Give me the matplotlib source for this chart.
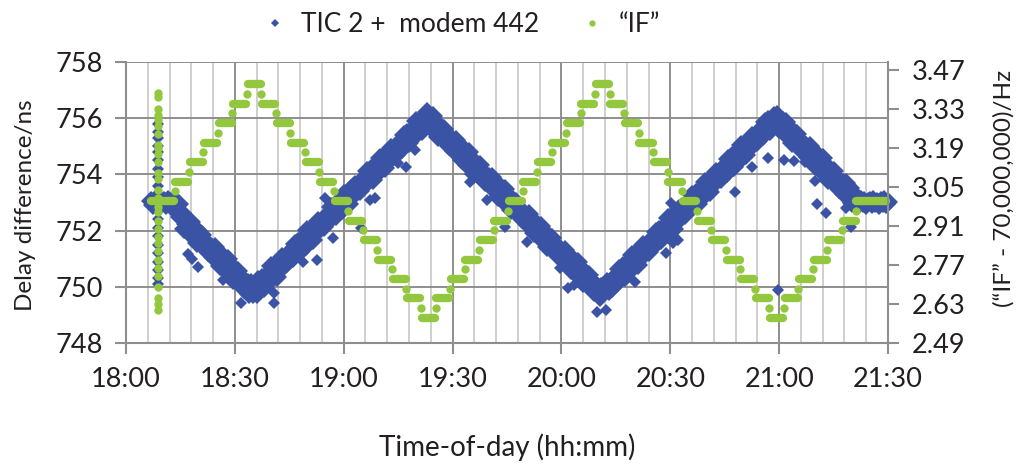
import numpy as np
import matplotlib
matplotlib.use("Agg")
import matplotlib.pyplot as plt
from matplotlib.lines import Line2D
from matplotlib.ticker import FuncFormatter

plt.rcParams['font.family'] = ['Lato', 'DejaVu Sans']

# ---- data (time in minutes after 18:00) ----
# TIC 2 + modem 442: delay difference / ns, sampled every 0.5 min from 18:07
blue_t0 = 7.0
blue_dt = 0.5
blue_v = [
    # flat start
    753.05, 752.92, 753.10, 752.98, 753.08, 752.90, 753.00, 753.06, 752.91, 753.10, 752.96, 753.03, 752.90,
    # falling to first minimum
    753.07, 752.67, 752.95, 752.50, 752.62, 752.05, 752.25, 752.32, 751.88, 752.32,
    751.87, 751.99, 751.56, 751.95, 751.69, 751.86, 751.43, 751.56, 751.25, 751.48,
    751.43, 751.07, 751.43, 751.07, 751.25, 750.73, 750.94, 751.00, 750.57, 751.00,
    750.56, 750.67, 750.24, 750.64, 750.37, 750.55, 750.11, 750.24, 749.93, 750.16,
    750.12, 749.75, 750.12, 749.75,
    # rising to first maximum
    749.98, 749.75, 750.24, 750.01, 750.32, 749.94, 750.27, 750.47, 750.16, 750.73,
    750.41, 750.65, 750.36, 750.88, 750.75, 751.05, 750.75, 751.01, 750.83, 751.19,
    751.28, 751.04, 751.54, 751.30, 751.61, 751.23, 751.56, 751.76, 751.45, 752.02,
    751.70, 751.95, 751.65, 752.18, 752.04, 752.34, 752.04, 752.30, 752.12, 752.48,
    752.57, 752.33, 752.83, 752.59, 752.91, 752.52, 752.86, 753.05, 752.74, 753.31,
    752.99, 753.24, 752.94, 753.47, 753.33, 753.64, 753.33, 753.60, 753.41, 753.77,
    753.86, 753.62, 754.12, 753.88, 754.20, 753.81, 754.15, 754.34, 754.04, 754.60,
    754.29, 754.53, 754.23, 754.76, 754.62, 754.93, 754.62, 754.89, 754.70, 755.07,
    755.15, 754.92, 755.41, 755.17, 755.49, 755.10, 755.44, 755.63, 755.33, 755.89,
    755.58, 755.82, 755.53, 756.05, 755.92, 756.22,
    # falling to second minimum
    756.08, 755.65, 756.08, 755.64, 755.75, 755.33, 755.72, 755.46, 755.63, 755.20,
    755.33, 755.02, 755.25, 755.21, 754.84, 755.21, 754.84, 755.03, 754.51, 754.72,
    754.78, 754.35, 754.78, 754.34, 754.45, 754.03, 754.42, 754.16, 754.33, 753.90,
    754.03, 753.72, 753.95, 753.91, 753.54, 753.91, 753.54, 753.73, 753.21, 753.42,
    753.48, 753.05, 753.48, 753.04, 753.15, 752.73, 753.12, 752.86, 753.03, 752.60,
    752.73, 752.42, 752.65, 752.60, 752.24, 752.60, 752.24, 752.42, 751.91, 752.11,
    752.18, 751.74, 752.18, 751.73, 751.85, 751.42, 751.82, 751.55, 751.73, 751.29,
    751.43, 751.11, 751.35, 751.30, 750.94, 751.30, 750.94, 751.12, 750.61, 750.81,
    750.88, 750.44, 750.88, 750.43, 750.55, 750.12, 750.52, 750.25, 750.43, 749.99,
    750.13, 749.81, 750.05, 750.00, 749.64, 750.00,
    # rising to second maximum
    750.00, 749.86, 750.17, 749.86, 750.13, 749.94, 750.31, 750.39, 750.16, 750.65,
    750.42, 750.73, 750.35, 750.68, 750.88, 750.57, 751.14, 750.82, 751.07, 750.77,
    751.30, 751.16, 751.47, 751.16, 751.43, 751.24, 751.61, 751.69, 751.46, 751.95,
    751.72, 752.03, 751.65, 751.98, 752.18, 751.87, 752.44, 752.12, 752.37, 752.07,
    752.60, 752.46, 752.77, 752.46, 752.73, 752.54, 752.91, 752.99, 752.76, 753.25,
    753.02, 753.33, 752.95, 753.29, 753.48, 753.18, 753.74, 753.43, 753.67, 753.38,
    753.90, 753.77, 754.07, 753.77, 754.03, 753.85, 754.21, 754.30, 754.06, 754.56,
    754.32, 754.64, 754.25, 754.59, 754.78, 754.48, 755.04, 754.73, 754.97, 754.68,
    755.20, 755.07, 755.37, 755.07, 755.33, 755.15, 755.51, 755.60, 755.36, 755.86,
    755.62, 755.94, 755.55, 755.89, 756.08, 755.78,
    # falling back to 753
    756.13, 755.62, 755.82, 755.89, 755.45, 755.88, 755.44, 755.55, 755.13, 755.52,
    755.26, 755.43, 754.99, 755.13, 754.81, 755.05, 755.00, 754.63, 755.00, 754.63,
    754.82, 754.30, 754.50, 754.57, 754.13, 754.57, 754.12, 754.23, 753.81, 754.20,
    753.94, 754.11, 753.68, 753.81, 753.49, 753.73, 753.68, 753.32, 753.68, 753.31,
    753.50, 752.98, 753.19, 753.25,
    # flat end
    753.04, 752.93, 753.08, 752.97, 753.06, 752.91, 753.02, 753.07, 752.94, 753.09,
    752.97, 753.03, 752.92, 753.06, 753.00, 753.08, 752.95, 753.02,
]

# start-up burst at 18:09
blue_spike_t = 8.9
blue_spike_v = [755.8, 755.5, 755.3, 755.0, 754.8, 754.5, 754.2, 753.9, 753.6, 753.3,
                752.7, 752.4, 752.1, 751.8, 751.5, 751.2, 750.9, 750.6, 750.3, 750.1]

# stray points off the main band
out_t = [17.2, 18.1, 19.9, 26.8, 31.7, 40.9, 40.8, 48.8, 52.5, 54.8, 57.1, 64.9, 67.2, 68.6,
         74.9, 77.3, 79.6, 94.8, 99.4, 104.4, 110.4, 119.6, 121.8, 123.4, 129.7, 132.4, 140.2,
         148.8, 150.7, 152.0, 150.3, 167.8, 172.4, 176.9, 179.7, 181.3, 184.0, 187.1, 189.8,
         190.4, 193.0, 198.5, 199.9]
out_v = [751.16, 750.99, 750.72, 750.24, 749.41, 749.77, 749.41, 750.90, 750.95, 753.17, 751.73,
         752.08, 753.10, 753.15, 754.40, 754.27, 754.87, 753.74, 753.09, 752.14, 751.60, 750.66,
         749.95, 750.06, 749.11, 749.17, 750.18, 751.20, 751.56, 751.67, 752.97, 753.38, 754.27,
         754.57, 749.89, 754.51, 754.48, 754.45, 753.77, 752.95, 752.64, 752.79, 752.14]

# "IF" - 70,000,000 Hz: stepped levels (start, end, level)
if_start = [7.0, 13.5, 17.5, 21.5, 25.5, 29.5, 33.5, 37.5, 41.5, 45.5, 49.5, 53.5, 57.5,
            61.5, 65.5, 69.5, 73.5, 77.5, 81.5, 85.5, 89.5, 93.5, 97.5, 101.5, 105.5, 109.5,
            113.5, 117.5, 121.5, 125.5, 129.5, 133.5, 137.5, 141.5, 145.5, 149.5, 153.5,
            157.5, 161.5, 165.5, 169.5, 173.5, 177.5, 181.5, 185.5, 189.5, 193.5, 197.5, 201.3]
if_end = [13.2, 17.1, 21.1, 25.1, 29.1, 33.1, 37.1, 41.1, 45.1, 49.1, 53.1, 57.1, 61.1,
          65.1, 69.1, 73.1, 77.1, 81.1, 85.1, 89.1, 93.1, 97.1, 101.1, 105.1, 109.1, 113.1,
          117.1, 121.1, 125.1, 129.1, 133.1, 137.1, 141.1, 145.1, 149.1, 153.1, 157.1,
          161.1, 165.1, 169.1, 173.1, 177.1, 181.1, 185.1, 189.1, 193.1, 197.1, 201.1, 209.5]
if_level = [3.00, 3.07, 3.14, 3.21, 3.28, 3.35, 3.42, 3.35, 3.28, 3.21, 3.14, 3.07, 3.00,
            2.93, 2.86, 2.79, 2.72, 2.65, 2.58, 2.65, 2.72, 2.79, 2.86, 2.93, 3.00, 3.07,
            3.14, 3.21, 3.28, 3.35, 3.42, 3.35, 3.28, 3.21, 3.14, 3.07, 3.00,
            2.93, 2.86, 2.79, 2.72, 2.65, 2.58, 2.65, 2.72, 2.79, 2.86, 2.93, 3.00]

# single readings caught between two levels
if_trans_t = [13.4, 17.3, 21.3, 25.3, 29.3, 33.3, 37.3, 41.3, 45.3, 49.3, 53.3, 57.3, 61.3,
              65.3, 69.3, 73.3, 77.3, 81.3, 85.3, 89.3, 93.3, 97.3, 101.3, 105.3, 109.3, 113.3,
              117.3, 121.3, 125.3, 129.3, 133.3, 137.3, 141.3, 145.3, 149.3, 153.3, 157.3,
              161.3, 165.3, 169.3, 173.3, 177.3, 181.3, 185.3, 189.3, 193.3, 197.3, 201.2]
if_trans_v = [3.035, 3.105, 3.175, 3.245, 3.315, 3.385, 3.385, 3.315, 3.245, 3.175, 3.105, 3.035,
              2.965, 2.895, 2.825, 2.755, 2.685, 2.615, 2.615, 2.685, 2.755, 2.825, 2.895, 2.965,
              3.035, 3.105, 3.175, 3.245, 3.315, 3.385, 3.385, 3.315, 3.245, 3.175, 3.105, 3.035,
              2.965, 2.895, 2.825, 2.755, 2.685, 2.615, 2.615, 2.685, 2.755, 2.825, 2.895, 2.965]

# start-up burst of "IF"
if_spike_t = 8.8
if_spike_v = [3.39, 3.375, 3.33, 3.31, 3.29, 3.27, 3.24, 3.20, 3.19, 3.17, 3.14, 3.10, 3.08,
              3.04, 3.01, 2.98, 2.96, 2.93, 2.90, 2.87, 2.85, 2.82, 2.79, 2.76, 2.73, 2.69,
              2.65, 2.63, 2.61]

left_ticks = [748, 750, 752, 754, 756, 758]
right_ticks = [2.49, 2.63, 2.77, 2.91, 3.05, 3.19, 3.33, 3.47]

BLUE = '#3A53A4'
GREEN = '#93C83E'
MAJOR = '#8E8E8E'
MINOR = '#CBCBCB'
TXT = '#231F20'
FS = 19.5

fig = plt.figure(figsize=(10.22, 4.66), dpi=100)
ax = fig.add_axes([126 / 1022, 1 - 343 / 466, (888 - 126) / 1022, (343 - 62) / 466])
ax2 = ax.twinx()

# blue series
blue_t = blue_t0 + blue_dt * np.arange(len(blue_v))
ax.plot(blue_t, blue_v, ls='none', marker='D', ms=10, color=BLUE, mew=0, clip_on=False)
ax.plot([blue_spike_t] * len(blue_spike_v), blue_spike_v, ls='none', marker='D', ms=6,
        color=BLUE, mew=0)
ax.plot(out_t, out_v, ls='none', marker='D', ms=6.5, color=BLUE, mew=0)

# green series
for s, e, lv in zip(if_start, if_end, if_level):
    ax2.plot([s, e], [lv, lv], color=GREEN, lw=6, solid_capstyle='round', clip_on=False)
ax2.plot(if_trans_t, if_trans_v, ls='none', marker='o', ms=6, color=GREEN, mew=0)
ax2.plot([if_spike_t] * len(if_spike_v), if_spike_v, ls='none', marker='o', ms=6,
         color=GREEN, mew=0)

# axes
ax.set_xlim(0, 210)
ax.set_ylim(748, 758)
ax2.set_ylim(2.49, 3.50)
ax.set_xticks(np.arange(0, 211, 30))
ax.set_xticks(np.arange(0, 211, 6), minor=True)
ax.xaxis.set_major_formatter(FuncFormatter(lambda v, p: '%d:%02d' % (18 + int(v) // 60, int(v) % 60)))
ax.set_yticks(left_ticks)
ax2.set_yticks(right_ticks)
ax2.set_yticklabels(['%.2f' % v for v in right_ticks])

ax.grid(which='minor', axis='x', color=MINOR, lw=1.3)
ax.grid(which='major', axis='both', color=MAJOR, lw=1.4)
ax.set_axisbelow(True)

for sp in ['top', 'right']:
    ax.spines[sp].set_visible(False)
for sp in ['left', 'bottom']:
    ax.spines[sp].set_color(MAJOR)
    ax.spines[sp].set_linewidth(1.5)
for sp in ['left', 'top', 'bottom']:
    ax2.spines[sp].set_visible(False)
ax2.spines['right'].set_color(MAJOR)
ax2.spines['right'].set_linewidth(1.5)

ax.tick_params(axis='both', which='major', length=8, width=1.5, color=MAJOR,
               labelsize=FS, labelcolor=TXT)
ax.tick_params(axis='x', which='major', pad=9)
ax.tick_params(axis='y', which='major', pad=9)
ax.tick_params(axis='x', which='minor', length=0)
ax2.tick_params(axis='y', length=8, width=1.5, color=MAJOR, labelsize=FS, labelcolor=TXT, pad=9)

ax.set_xlabel('Time-of-day (hh:mm)', fontsize=20, color=TXT, labelpad=30)
ax.set_ylabel('Delay difference/ns', fontsize=17.5, color=TXT, labelpad=12)
ax.yaxis.set_label_coords(-0.118, 0.49)
ax2.set_ylabel('(\u201cIF\u201d - 70,000,000)/Hz', fontsize=17.5, color=TXT, rotation=90, labelpad=14)
ax2.yaxis.set_label_coords(1.138, 0.55)

handles = [Line2D([], [], ls='none', marker='D', ms=4.5, color=BLUE, mew=0),
           Line2D([], [], ls='none', marker='o', ms=4.5, color=GREEN, mew=0)]
fig.legend(handles, ['TIC 2 +  modem 442', '\u201cIF\u201d'], loc='upper center',
           bbox_to_anchor=(0.452, 1.025), ncol=2, frameon=False, fontsize=19,
           handlelength=0.8, handletextpad=0.6, columnspacing=1.6, labelcolor=TXT)

fig.savefig('out.png', dpi=100)
